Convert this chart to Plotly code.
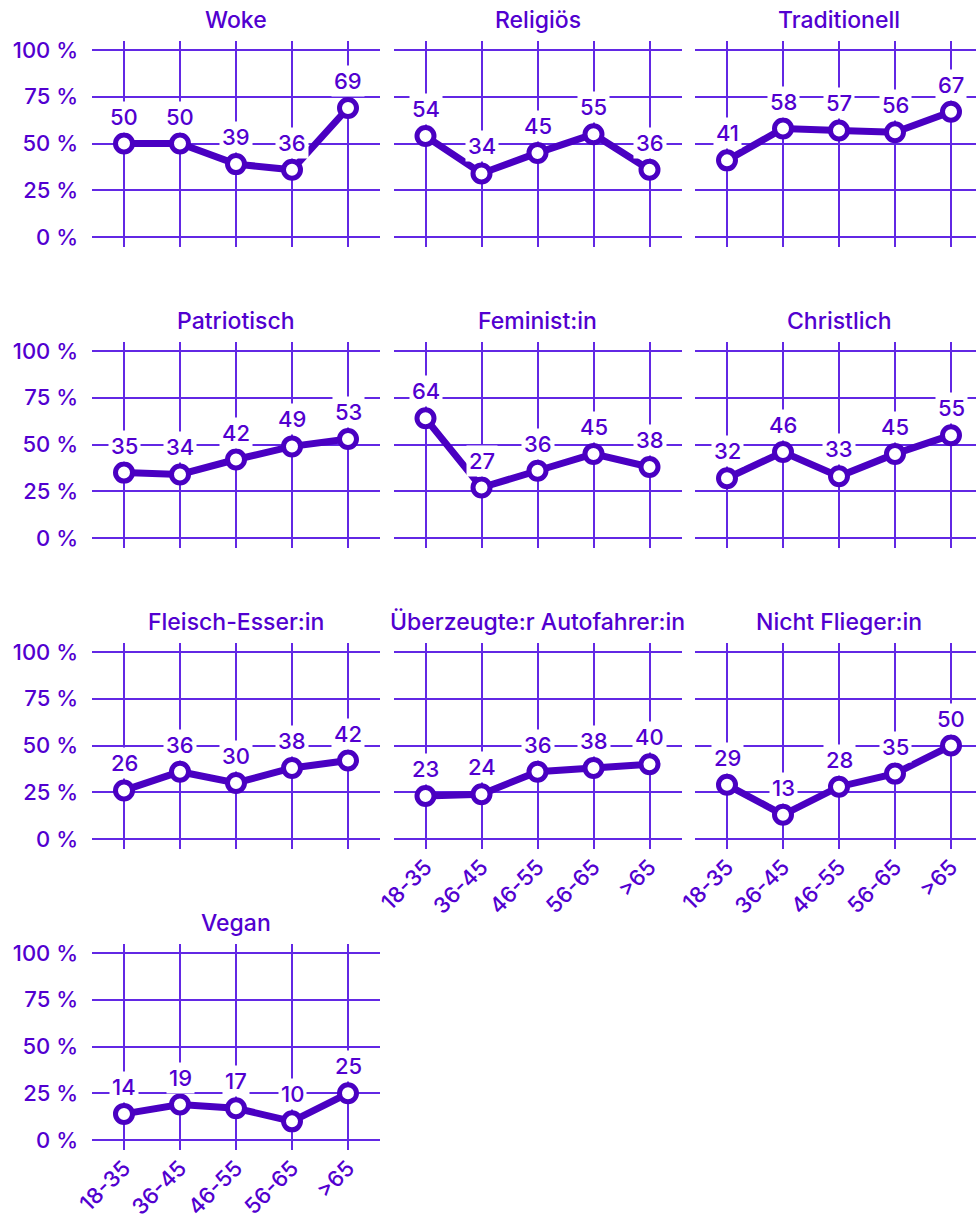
import plotly.graph_objects as go

categories = ["18-35", "36-45", "46-55", "56-65", ">65"]
titles = ["Woke", "Religiös", "Traditionell",
          "Patriotisch", "Feminist:in", "Christlich",
          "Fleisch-Esser:in", "Überzeugte:r Autofahrer:in", "Nicht Flieger:in",
          "Vegan"]
woke = [50, 50, 39, 36, 69]
religioes = [54, 34, 45, 55, 36]
traditionell = [41, 58, 57, 56, 67]
patriotisch = [35, 34, 42, 49, 53]
feminist = [64, 27, 36, 45, 38]
christlich = [32, 46, 33, 45, 55]
fleisch = [26, 36, 30, 38, 42]
autofahrer = [23, 24, 36, 38, 40]
nichtflieger = [29, 13, 28, 35, 50]
vegan = [14, 19, 17, 10, 25]
series = [woke, religioes, traditionell, patriotisch, feminist, christlich,
          fleisch, autofahrer, nichtflieger, vegan]
ytickvals = [0, 25, 50, 75, 100]
yticktext = ["0 %", "25 %", "50 %", "75 %", "100 %"]

W, H = 976, 1219
TEXT = "#5200d0"
LINE = "#4a00c2"
GRID = "#6228e4"
FONT = "Inter"
FS = 22

fig = go.Figure()

def xdom(c):
    left = 92 + 301.5 * c
    right = min(left + 288, W)
    return [left / W, right / W], right - left, left

def ydom(r):
    top = 41 + 301 * r
    bot = 247 + 301 * r
    return [1 - bot / H, 1 - top / H]

for i, (title, vals) in enumerate(zip(titles, series)):
    r, c = divmod(i, 3)
    n = i + 1
    xa = "x" if n == 1 else f"x{n}"
    ya = "y" if n == 1 else f"y{n}"
    dx, wpx, left = xdom(c)
    dy = ydom(r)
    x0 = -0.5714
    x1 = x0 + wpx / 56.0
    fig.add_trace(go.Scatter(
        x=categories, y=vals, xaxis=xa, yaxis=ya, mode="lines+markers",
        line=dict(color=LINE, width=7),
        marker=dict(size=17, color="white", line=dict(color=LINE, width=5)),
        hoverinfo="skip", showlegend=False, cliponaxis=False))
    show_x = (i >= 7)
    fig.layout[("xaxis" if n == 1 else f"xaxis{n}")] = dict(
        domain=dx, anchor=ya, type="category", range=[x0, x1],
        automargin=False,
        showgrid=True, gridcolor=GRID, gridwidth=1.5, showline=False,
        zeroline=False, showticklabels=show_x, tickangle=-45, ticks="",
        tickfont=dict(family=FONT, size=FS, color=TEXT, weight=500),
        fixedrange=True)
    fig.layout[("yaxis" if n == 1 else f"yaxis{n}")] = dict(
        domain=dy, anchor=xa, range=[-5.3, 104.8],
        automargin=False,
        tickvals=ytickvals, ticktext=yticktext,
        showgrid=True, gridcolor=GRID, gridwidth=1.5, showline=False,
        zeroline=False, showticklabels=(c == 0), ticklabelstandoff=13,
        tickfont=dict(family=FONT, size=FS, color=TEXT, weight=500),
        fixedrange=True)
    fig.add_annotation(
        text=title, xref="paper", yref="paper",
        x=(left + 144) / W, y=dy[1], yshift=21,
        xanchor="center", yanchor="middle", showarrow=False,
        font=dict(family=FONT, size=23, color=TEXT, weight=500))
    for cat, v in zip(categories, vals):
        fig.add_annotation(
            text=str(v), xref=xa, yref=ya, x=cat, y=v, yshift=27,
            showarrow=False, bgcolor="white", borderpad=2,
            font=dict(family=FONT, size=FS, color=TEXT, weight=500))

fig.update_layout(width=W, height=H, margin=dict(l=0, r=0, t=0, b=0),
                  paper_bgcolor="white", plot_bgcolor="white")
fig.write_html("out.html", config={"displayModeBar": False},
               post_script="document.body.style.margin='0';document.body.style.overflow='hidden';")
